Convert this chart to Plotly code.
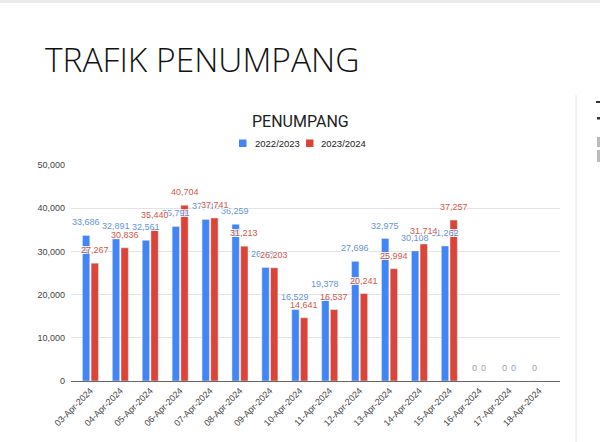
import plotly.graph_objects as go

dates = ["03-Apr-2024", "04-Apr-2024", "05-Apr-2024", "06-Apr-2024", "07-Apr-2024",
         "08-Apr-2024", "09-Apr-2024", "10-Apr-2024", "11-Apr-2024", "12-Apr-2024",
         "13-Apr-2024", "14-Apr-2024", "15-Apr-2024", "16-Apr-2024", "17-Apr-2024",
         "18-Apr-2024"]
s2223 = [33686, 32891, 32561, 35791, 37410, 36259, 26280, 16529, 19378, 27696,
         32975, 30108, 31262, 0, 0, 0]
s2324 = [27267, 30836, 35440, 40704, 37741, 31213, 26203, 14641, 16537, 20241,
         25994, 31714, 37257, 0, 0, None]
series_names = ["2022/2023", "2023/2024"]
y_ticks = [0, 10000, 20000, 30000, 40000, 50000]

BLUE = "#4285F4"
RED = "#DB4437"
BLUE_TXT = "#6494DA"
RED_TXT = "#D4584A"

W, H = 600, 442
L, R, T, B = 71, 40, 165, 61
PW, PH = W - L - R, H - T - B

def px(x):
    return (x - L) / PW

def py(y):
    return (H - B - y) / PH

fig = go.Figure()
fig.add_bar(x=dates, y=s2223, name=series_names[0], marker_color=BLUE, showlegend=False)
fig.add_bar(x=dates, y=s2324, name=series_names[1], marker_color=RED, showlegend=False)

shadow = "1px 1px 0 #fff, -1px -1px 0 #fff, 1px -1px 0 #fff, -1px 1px 0 #fff"
annotations = []
for vals, shift, col in ((s2223, -4.5, BLUE_TXT), (s2324, 4.5, RED_TXT)):
    for d, v in zip(dates, vals):
        if v is None:
            continue
        annotations.append(dict(
            x=d, y=v, xref="x", yref="y", text=f"{v:,}", showarrow=False,
            xshift=shift, yshift=13, yanchor="middle", xanchor="center",
            font=dict(family="Liberation Sans, Arial", size=9,
                      color=col if v else "#8fa3bd", shadow=shadow)))

# slide title
annotations.append(dict(x=px(43), y=py(59), xref="paper", yref="paper",
                        text="TRAFIK PENUMPANG", showarrow=False,
                        xanchor="left", yanchor="middle",
                        font=dict(family="Open Sans", size=33.5, color="#111", weight=300)))
# chart title
annotations.append(dict(x=px(300), y=py(121), xref="paper", yref="paper",
                        text="PENUMPANG", showarrow=False,
                        xanchor="center", yanchor="middle",
                        font=dict(family="Roboto, Liberation Sans", size=16, color="#222")))
# legend texts
for name, tx in zip(series_names, (253, 319)):
    annotations.append(dict(x=px(tx), y=py(143), xref="paper", yref="paper",
                            text=name, showarrow=False, xanchor="left", yanchor="middle",
                            font=dict(family="Liberation Sans, Arial", size=9.5, color="#222")))

shapes = [
    dict(type="rect", xref="paper", yref="paper", x0=px(239), x1=px(246.5),
         y0=py(147), y1=py(139.5), fillcolor=BLUE, line_width=0),
    dict(type="rect", xref="paper", yref="paper", x0=px(306), x1=px(313.5),
         y0=py(147), y1=py(139.5), fillcolor=RED, line_width=0),
    dict(type="rect", xref="paper", yref="paper", x0=px(0), x1=px(600),
         y0=py(3), y1=py(0), fillcolor="#ececec", line_width=0, layer="below"),
    dict(type="line", xref="paper", yref="paper", x0=px(576), x1=px(576),
         y0=py(95), y1=py(442), line=dict(color="#e4e4e4", width=1)),
    dict(type="rect", xref="paper", yref="paper", x0=px(596), x1=px(600),
         y0=py(103), y1=py(101), fillcolor="#333", line_width=0),
    dict(type="rect", xref="paper", yref="paper", x0=px(597), x1=px(600),
         y0=py(119.5), y1=py(117), fillcolor="#333", line_width=0),
    dict(type="rect", xref="paper", yref="paper", x0=px(597), x1=px(600),
         y0=py(147), y1=py(137), fillcolor="#bbb", line_width=0),
    dict(type="rect", xref="paper", yref="paper", x0=px(597), x1=px(600),
         y0=py(162), y1=py(150), fillcolor="#bbb", line_width=0),
]

fig.update_layout(
    width=W, height=H,
    margin=dict(l=L, r=R, t=T, b=B, pad=0),
    paper_bgcolor="white", plot_bgcolor="white",
    barmode="group", bargap=0.42, bargroupgap=0.15,
    annotations=annotations, shapes=shapes,
    font=dict(family="Liberation Sans, Arial", color="#444"),
)
fig.update_xaxes(
    range=[-0.65, 15.7], tickangle=-45, showgrid=False,
    showline=True, linecolor="#666", linewidth=1,
    tickfont=dict(size=9, color="#444"), ticks="",
)
fig.update_yaxes(
    range=[0, 50000], tickvals=y_ticks, tickformat=",",
    showgrid=True, gridcolor="#e3e3e3", zeroline=False,
    tickfont=dict(size=9, color="#444"), ticklabelstandoff=5,
)

fig.write_html("out.html", config={"displayModeBar": False},
               post_script="document.body.style.margin='0';")
